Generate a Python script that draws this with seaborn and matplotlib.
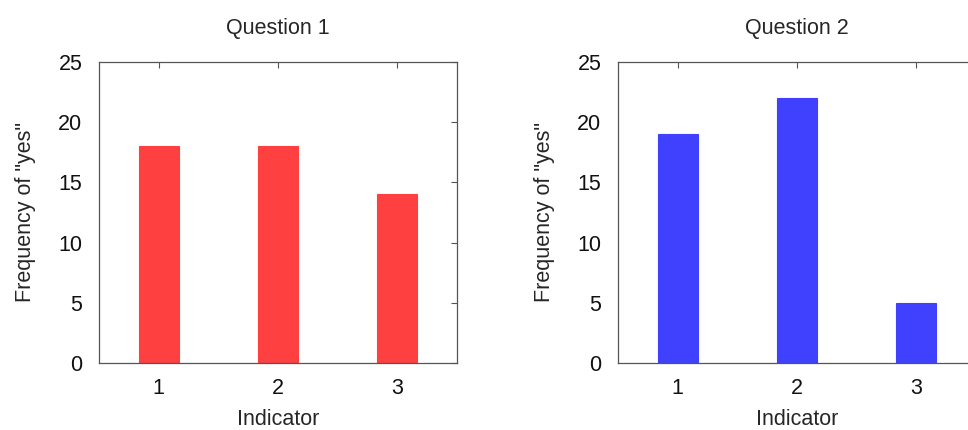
import numpy as np
import pandas as pd
import seaborn as sns
import matplotlib.pyplot as plt

# data
indicators = [1, 2, 3]
q1_yes = [18, 18, 14]
q2_yes = [19, 22, 5]
titles = ["Question 1", "Question 2"]
colors = ["#ff4040", "#4040ff"]

sns.set_style("white")
plt.rcParams['font.family'] = ['Liberation Sans', 'DejaVu Sans']

fig = plt.figure(figsize=(9.68, 4.30), dpi=100)
ax1 = fig.add_axes([99 / 968, 67 / 430, 358 / 968, 301 / 430])
ax2 = fig.add_axes([618 / 968, 67 / 430, 358 / 968, 301 / 430])

for ax, vals, title, col in zip([ax1, ax2], [q1_yes, q2_yes], titles, colors):
    df = pd.DataFrame({"Indicator": indicators, "yes": vals})
    sns.barplot(data=df, x="Indicator", y="yes", native_scale=True,
                width=0.335, color=col, saturation=1, edgecolor=col,
                linewidth=0.8, ax=ax)
    ax.set_xlim(0.5, 3.5)
    ax.set_ylim(0, 25)
    ax.set_xticks(indicators)
    ax.set_yticks([0, 5, 10, 15, 20, 25])
    ax.tick_params(direction="in", length=4, width=0.8, color="#555555",
                   top=True, right=True, labelsize=15.5,
                   labelcolor="#111111")
    ax.tick_params(axis="x", pad=11)
    ax.tick_params(axis="y", pad=12)
    for s in ax.spines.values():
        s.set_color("#555555")
        s.set_linewidth(0.9)
    ax.set_title(title, fontsize=15.5, pad=20)
    ax.set_xlabel("Indicator", fontsize=15.5, labelpad=7)
    ax.set_ylabel('Frequency of "yes"', fontsize=15.5, labelpad=16)

fig.savefig("out.png", dpi=100)
